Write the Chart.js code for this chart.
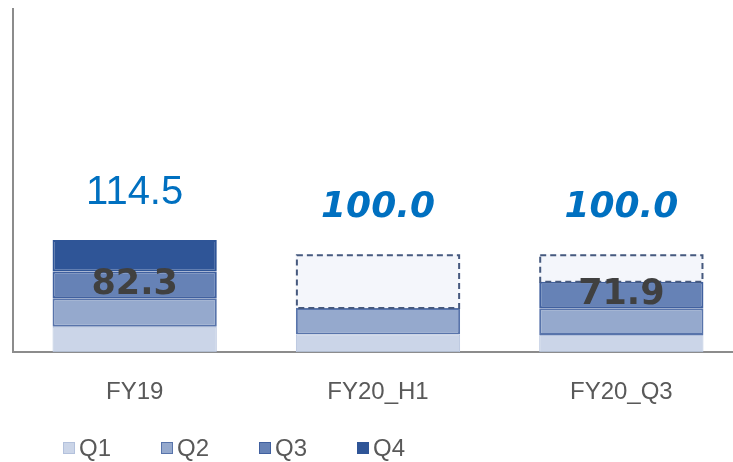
<!DOCTYPE html>
<html>
<head>
<meta charset="utf-8">
<script src="https://cdn.jsdelivr.net/npm/chart.js@4.4.1/dist/chart.umd.min.js"></script>
<style>
  html, body { margin: 0; padding: 0; background: #fff; overflow: hidden; }
  #wrap { width: 745px; height: 462px; }
</style>
</head>
<body>
<div id="wrap"><canvas id="c" width="745" height="462"></canvas></div>
<script>
// ---- data ----
const categories = ['FY19', 'FY20_H1', 'FY20_Q3'];
const q1 = [26.0, 18.0, 17.5];
const q2 = [29.0, 27.0, 27.2];
const q3 = [27.3, null, 27.2];
const q4 = [32.2, null, null];
const targets = [null, 100.0, 100.0];
const totalLabels = ['114.5', '100.0', '100.0'];
const cumulativeLabels = ['82.3', null, '71.9'];
const seriesNames = ['Q1', 'Q2', 'Q3', 'Q4'];

const actualSum = categories.map((_, i) => [q1, q2, q3, q4].reduce((s, a) => s + (a[i] || 0), 0));
const remainder = targets.map((t, i) => t == null ? null : +(t - actualSum[i]).toFixed(1));

const fills = ['#cbd5e8', '#95a9cd', '#6682b6', '#2f5597'];
const borders = ['#b3c1dc', '#5874ab', '#40609f', '#2f5597'];

const dashedBox = {
  id: 'dashedBox',
  afterDatasetsDraw(chart) {
    const ctx = chart.ctx;
    const meta = chart.getDatasetMeta(4);
    ctx.save();
    ctx.strokeStyle = '#46597e';
    ctx.lineWidth = 2;
    ctx.setLineDash([6, 4]);
    meta.data.forEach((bar, i) => {
      if (remainder[i] == null) return;
      const p = bar.getProps(['x', 'y', 'base', 'width'], true);
      const l = p.x - p.width / 2 + 1, r = p.x + p.width / 2 - 1;
      ctx.strokeRect(l, p.y + 1, r - l, p.base - p.y - 1);
    });
    ctx.restore();
  }
};

const valueLabels = {
  id: 'valueLabels',
  afterDatasetsDraw(chart) {
    const ctx = chart.ctx;
    const y = chart.scales.y;
    const x = chart.scales.x;
    ctx.save();
    ctx.textAlign = 'center';
    ctx.textBaseline = 'middle';
    categories.forEach((c, i) => {
      const cx = x.getPixelForValue(i);
      const top = targets[i] != null ? targets[i] : actualSum[i];
      const py = y.getPixelForValue(top) - 47;
      if (targets[i] != null) {
        ctx.font = 'italic bold 36px "DejaVu Sans"';
      } else {
        ctx.font = '40px "Liberation Sans"';
      }
      ctx.fillStyle = '#0070c0';
      ctx.fillText(totalLabels[i], cx, py);
      if (cumulativeLabels[i]) {
        const lo = (q1[i] || 0) + (q2[i] || 0);
        const hi = lo + (q3[i] || 0);
        const my = (y.getPixelForValue(lo) + y.getPixelForValue(hi)) / 2;
        ctx.font = 'bold 35px "DejaVu Sans"';
        ctx.fillStyle = '#404040';
        ctx.fillText(cumulativeLabels[i], cx, my);
      }
    });
    ctx.restore();
  }
};

const customLegend = {
  id: 'customLegend',
  afterDraw(chart) {
    const ctx = chart.ctx;
    ctx.save();
    ctx.textBaseline = 'middle';
    ctx.textAlign = 'left';
    ctx.font = '24px "Liberation Sans"';
    for (let i = 0; i < 4; i++) {
      const ds = chart.data.datasets[i];
      const bx = 63 + i * 98, by = 442;
      ctx.fillStyle = ds.backgroundColor;
      ctx.fillRect(bx, by, 12, 12);
      ctx.strokeStyle = ds.borderColor;
      ctx.lineWidth = 1;
      ctx.strokeRect(bx + 0.5, by + 0.5, 11, 11);
      ctx.fillStyle = '#595959';
      ctx.fillText(ds.label, bx + 16, by + 7);
    }
    ctx.restore();
  }
};

const mk = (label, data, i) => ({
  label, data, backgroundColor: fills[i], borderColor: borders[i],
  borderWidth: i === 0 ? 1 : 2, borderSkipped: false,
  barPercentage: 0.675, categoryPercentage: 1.0
});

new Chart(document.getElementById('c'), {
  type: 'bar',
  data: {
    labels: categories,
    datasets: [
      mk(seriesNames[0], q1, 0),
      mk(seriesNames[1], q2, 1),
      mk(seriesNames[2], q3, 2),
      mk(seriesNames[3], q4, 3),
      { label: 'rest', data: remainder, backgroundColor: '#f4f6fb', borderWidth: 0,
        barPercentage: 0.675, categoryPercentage: 1.0 }
    ]
  },
  options: {
    responsive: false,
    animation: false,
    devicePixelRatio: 1,
    layout: { padding: { left: 13, right: 2, top: 9, bottom: 29 } },
    plugins: { legend: { display: false }, tooltip: { enabled: false } },
    scales: {
      x: {
        stacked: true,
        grid: { display: false, drawTicks: false },
        border: { display: true, color: '#8c8c8c', width: 2 },
        ticks: { color: '#595959', font: { family: 'Liberation Sans', size: 24 }, padding: 26 }
      },
      y: {
        stacked: true,
        min: 0, max: 350,
        grid: { display: false, drawTicks: false },
        border: { display: true, color: '#8c8c8c', width: 2 },
        ticks: { display: false }
      }
    }
  },
  plugins: [dashedBox, valueLabels, customLegend]
});
</script>
</body>
</html>
